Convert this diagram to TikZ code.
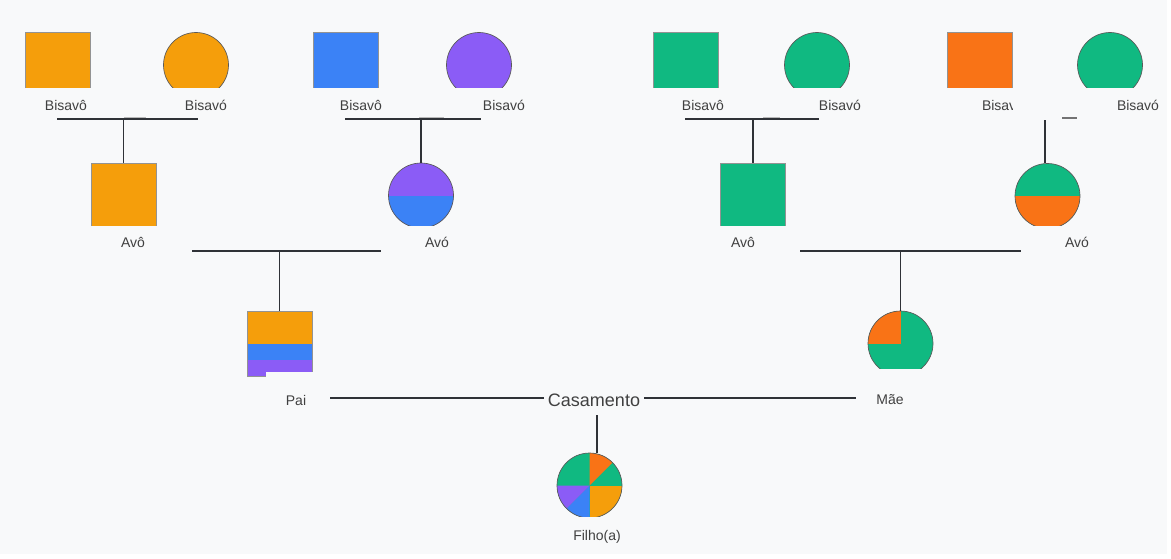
\documentclass[tikz,border=0pt]{standalone}
\usepackage{fontspec}
\setmainfont{Liberation Sans}
\usepackage{tikz}

\definecolor{bgc}{HTML}{F8F9FA}
\definecolor{famAmber}{HTML}{F59E0B}
\definecolor{famBlue}{HTML}{3B82F6}
\definecolor{famPurple}{HTML}{8B5CF6}
\definecolor{famGreen}{HTML}{10B981}
\definecolor{famOrange}{HTML}{F97316}
\definecolor{txt}{HTML}{404040}
\definecolor{lnk}{HTML}{2F3237}

\begin{document}
\begin{tikzpicture}[x=0.75pt, y=-0.75pt]
    % Styles
    \tikzstyle{malebox} = [rectangle, draw=gray!85, line width=0.6pt, minimum width=48.75pt, minimum height=48.75pt, inner sep=0pt]
    \tikzstyle{femalebox} = [circle, draw=black!65, line width=0.5pt, minimum size=48.75pt, inner sep=0pt]
    \tikzstyle{lbl} = [font=\fontsize{10.5}{12}\selectfont, text=txt]
    \tikzstyle{bond} = [draw=lnk, line width=1.1pt]
    \tikzstyle{ghost} = [draw=gray!55, line width=1pt]

    % Background
    \fill[white] (0,0) rectangle (1171,558);
    \fill[bgc] (0,0) rectangle (1167,554);
    \useasboundingbox (0,0) rectangle (1171,558);

    % Bisavos
    \begin{scope}
        \clip (0,0) rectangle (1171,87.5);
        \node[malebox, fill=famAmber] (bv1) at (57.5,64.5) {};
        \node[femalebox, fill=famAmber] (bv2) at (196,65) {};
        \node[malebox, fill=famBlue] (bv3) at (345.5,64.5) {};
        \node[femalebox, fill=famPurple] (bv4) at (479,65) {};
        \node[malebox, fill=famGreen] (bv5) at (685.5,64.5) {};
        \node[femalebox, fill=famGreen] (bv6) at (817,65) {};
        \node[malebox, fill=famOrange] (bv7) at (979.5,64.5) {};
        \node[femalebox, fill=famGreen] (bv8) at (1110,65) {};
    \end{scope}
    \node[lbl] (lbv1) at (66,105) {Bisavô};
    \node[lbl] (lbv2) at (206,105) {Bisavó};
    \node[lbl] (lbv3) at (361,105) {Bisavô};
    \node[lbl] (lbv4) at (504,105) {Bisavó};
    \node[lbl] (lbv5) at (703,105) {Bisavô};
    \node[lbl] (lbv6) at (840,105) {Bisavó};
    \node[lbl] (lbv7) at (1003,105) {Bisavô};
    \fill[bgc] (1013,93) rectangle (1060,117);
    \node[lbl] (lbv8) at (1138,105) {Bisavó};

    % Avos
    \begin{scope}
        \clip (0,140) rectangle (1171,225);
        \node[malebox, fill=famAmber] (av1) at (123.5,195.5) {};
        \node[femalebox, fill=famPurple, path picture={
            \fill[famBlue] (path picture bounding box.west) rectangle (path picture bounding box.south east);}] (av2) at (421,195.5) {};
        \node[malebox, fill=famGreen] (av3) at (753,195.5) {};
        \node[femalebox, fill=famGreen, path picture={
            \fill[famOrange] (path picture bounding box.west) rectangle (path picture bounding box.south east);}] (av4) at (1047.5,196) {};
    \end{scope}
    \node[lbl] (lav1) at (133,242) {Avô};
    \node[lbl] (lav2) at (437,242) {Avó};
    \node[lbl] (lav3) at (743,242) {Avô};
    \node[lbl] (lav4) at (1077,242) {Avó};

    % Bisavos -> Avos
    \coordinate (u1l) at (57,119);
    \coordinate (u1r) at (198,119);
    \coordinate (u2l) at (345,119);
    \coordinate (u2r) at (481,119);
    \coordinate (u3l) at (685,119);
    \coordinate (u3r) at (819,119);
    \coordinate (u4) at (1045,120);
    \draw[bond] (u1l) -- (u1r);
    \draw[bond] (u2l) -- (u2r);
    \draw[bond] (u3l) -- (u3r);
    \draw[ghost] (124,117.5) -- (146,117.5);
    \draw[ghost] (419,117.5) -- (444,117.5);
    \draw[ghost] (763,117.5) -- (780,117.5);
    \draw[bond, draw=gray!90!black] (1062,118) -- (1077,118);
    \draw[bond] (av1.north |- u1l) -- (av1.north);
    \draw[bond] (av2.north |- u2l) -- (av2.north);
    \draw[bond] (av3.north |- u3l) -- (av3.north);
    \draw[bond] (u4) -- (u4 |- av4.north);

    % Pais
    \node[malebox, fill=famAmber, path picture={
        \fill[famBlue] (path picture bounding box.west) rectangle (path picture bounding box.south east);
        \fill[famPurple] ([yshift=12.2pt]path picture bounding box.south west) rectangle (path picture bounding box.south east);}] (pai) at (279.5,343.5) {};
    \fill[bgc] (266,372) rectangle (314,378);
    \begin{scope}
        \clip (850,300) rectangle (950,368);
        \node[femalebox, fill=famGreen, path picture={
            \fill[famOrange] (path picture bounding box.center) rectangle (path picture bounding box.north west);}] (mae) at (900.5,343.5) {};
    \end{scope}
    \node[lbl] (lpai) at (296,400) {Pai};
    \node[lbl] (lmae) at (890,400) {Mãe};

    % Avos -> Pais
    \coordinate (v1l) at (192,251);
    \coordinate (v1r) at (381,251);
    \coordinate (v2l) at (800,251);
    \coordinate (v2r) at (1021,251);
    \draw[bond] (v1l) -- (v1r);
    \draw[bond] (v2l) -- (v2r);
    \draw[bond] (pai.north |- v1l) -- (pai.north);
    \draw[bond] (mae.north |- v2l) -- (mae.north);

    % Casamento
    \node[font=\fontsize{13.5}{16}\selectfont, text=txt, inner sep=3pt] (cas) at (594,400) {Casamento};
    \coordinate (wl) at (330,398);
    \coordinate (wr) at (856,398);
    \draw[bond] (wl) -- (cas.west |- wl);
    \draw[bond] (cas.east |- wr) -- (wr);

    % Filho(a)
    \begin{scope}
        \clip (540,440) rectangle (640,516);
        \node[femalebox, fill=famGreen, path picture={
            \fill[famAmber] (path picture bounding box.center) rectangle (path picture bounding box.south east);
            \fill[famOrange] (path picture bounding box.center) -- (path picture bounding box.north) -- (path picture bounding box.north east) -- cycle;
            \fill[famBlue] (path picture bounding box.center) -- (path picture bounding box.south) -- (path picture bounding box.south west) -- cycle;
            \fill[famPurple] (path picture bounding box.center) -- (path picture bounding box.west) -- (path picture bounding box.south west) -- cycle;}] (kid) at (589.5,485.5) {};
    \end{scope}
    \coordinate (kc) at (597,415);
    \draw[bond] (kc) -- (kc |- kid.north);
    \node[lbl] (lkid) at (597,537) {Filho(a)};
\end{tikzpicture}
\end{document}
